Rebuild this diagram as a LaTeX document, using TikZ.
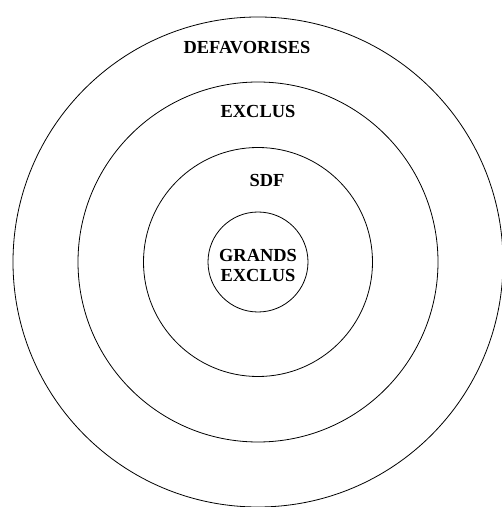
\documentclass[tikz,border=0pt]{standalone}
\usepackage{fontspec}
\setmainfont{Liberation Serif}
\usetikzlibrary{calc}

\begin{document}
\begin{tikzpicture}[x=1pt, y=1pt,
    ring/.style={draw, circle, line width=0.8, inner sep=0, outer sep=0},
    lbl/.style={text centered, align=center, inner sep=0, font=\bfseries\fontsize{18.4}{20}\selectfont}]
        \useasboundingbox (0,0) rectangle (502,507);
        % centre %
        \coordinate (c) at (258,245);
        % rings %
        \node[ring, minimum size=490] (defav) at (c) {};
        \node[ring, minimum size=360] (excl) at (c) {};
        \node[ring, minimum size=229] (sdf) at (c) {};
        \node[ring, minimum size=100] (grands) at (c) {};
        % labels %
        \node[lbl] (ldefav) at ($(c)+(-11,214)$) {DEFAVORISES};
        \node[lbl] (lexcl) at ($(c)+(0,150)$) {EXCLUS};
        \node[lbl] (lsdf) at ($(c)+(9,82)$) {SDF};
        \node[lbl] (lgrands) at ($(c)+(0,-3)$) {GRANDS\\EXCLUS};
\end{tikzpicture}
\end{document}
